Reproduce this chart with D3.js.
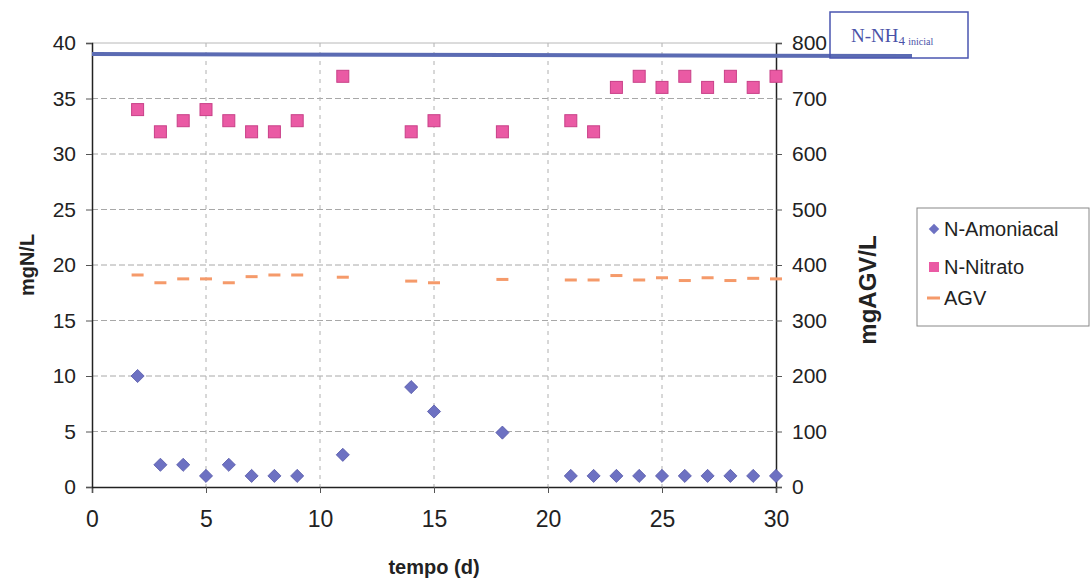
<!DOCTYPE html>
<html>
<head>
<meta charset="utf-8">
<script src="https://cdn.jsdelivr.net/npm/d3@7"></script>
<style>
  body { margin: 0; background: #fff; }
  svg { display: block; font-family: "Liberation Sans", Arial, sans-serif; }
</style>
</head>
<body>
<div id="chart"></div>
<script>
const width = 1091;
const height = 583;

// days (tempo)
const diasAmonio = [2, 3, 4, 5, 6, 7, 8, 9, 11, 14, 15, 18, 21, 22, 23, 24, 25, 26, 27, 28, 29, 30];
const nAmoniacal = [10, 2, 2, 1, 2, 1, 1, 1, 2.9, 9, 6.8, 4.9, 1, 1, 1, 1, 1, 1, 1, 1, 1, 1];
const nNitrato = [34, 32, 33, 34, 33, 32, 32, 33, 37, 32, 33, 32, 33, 32, 36, 37, 36, 37, 36, 37, 36, 37];
const agv = [382, 368, 375, 375, 368, 379, 382, 382, 378, 371, 368, 374, 373, 373, 381, 373, 377, 372, 377, 372, 376, 375];
const nh4Inicial = 39;

const xTicks = [0, 5, 10, 15, 20, 25, 30];
const yLeftTicks = [0, 5, 10, 15, 20, 25, 30, 35, 40];
const yRightTicks = [0, 100, 200, 300, 400, 500, 600, 700, 800];

const margin = { left: 92, right: 315, top: 43, bottom: 96 };

const svg = d3.select('#chart').append('svg')
    .attr('width', width)
    .attr('height', height);

const x = d3.scaleLinear().domain([0, 30]).range([margin.left, width - margin.right]);
const yL = d3.scaleLinear().domain([0, 40]).range([height - margin.bottom, margin.top]);
const yR = d3.scaleLinear().domain([0, 800]).range([height - margin.bottom, margin.top]);

const x0 = x(0), x1 = x(30), yBot = yL(0), yTop = yL(40);

// gridlines
svg.append('g').selectAll('line')
    .data(yLeftTicks.filter(d => d > 0 && d < 40))
    .enter().append('line')
    .attr('x1', x0).attr('x2', x1)
    .attr('y1', d => yL(d)).attr('y2', d => yL(d))
    .attr('stroke', '#a8a8a8')
    .attr('stroke-width', 1)
    .attr('stroke-dasharray', '6,3');

svg.append('g').selectAll('line')
    .data(xTicks.filter(d => d > 0 && d < 30))
    .enter().append('line')
    .attr('x1', d => x(d)).attr('x2', d => x(d))
    .attr('y1', yTop).attr('y2', yBot)
    .attr('stroke', '#b0b0b0')
    .attr('stroke-width', 1)
    .attr('stroke-dasharray', '4,5');

// top border
svg.append('line')
    .attr('x1', x0).attr('x2', x1)
    .attr('y1', yTop).attr('y2', yTop)
    .attr('stroke', '#b8b8b8');

// axes
const xAxis = svg.append('g')
    .attr('transform', `translate(0,${yBot})`)
    .call(d3.axisBottom(x).tickValues(xTicks).tickSize(6).tickPadding(18));
xAxis.selectAll('text')
    .attr('font-family', '"Liberation Sans Narrow", "Arial Narrow", sans-serif')
    .attr('font-size', '23px')
    .attr('fill', '#222');

const yAxisL = svg.append('g')
    .attr('transform', `translate(${x0},0)`)
    .call(d3.axisLeft(yL).tickValues(yLeftTicks).tickSize(6).tickPadding(10));
yAxisL.selectAll('text').attr('font-size', '21px').attr('fill', '#222');

const yAxisR = svg.append('g')
    .attr('transform', `translate(${x1},0)`)
    .call(d3.axisRight(yR).tickValues(yRightTicks).tickSize(6).tickPadding(10));
yAxisR.selectAll('text').attr('font-size', '21px').attr('fill', '#222');

[xAxis, yAxisL, yAxisR].forEach(a => {
    a.select('.domain').attr('stroke', '#222').attr('stroke-width', 1.5);
    a.selectAll('.tick line').attr('stroke', '#555');
});

// axis titles
svg.append('text')
    .attr('transform', `translate(34,${(yTop + yBot) / 2}) rotate(-90)`)
    .attr('text-anchor', 'middle')
    .attr('font-size', '20px')
    .attr('font-weight', 'bold')
    .attr('fill', '#222')
    .text('mgN/L');

svg.append('text')
    .attr('transform', `translate(876,${(yTop + yBot) / 2 + 25}) rotate(-90)`)
    .attr('text-anchor', 'middle')
    .attr('font-size', '24px')
    .attr('font-weight', 'bold')
    .attr('fill', '#222')
    .text('mgAGV/L');

svg.append('text')
    .attr('x', (x0 + x1) / 2)
    .attr('y', 574)
    .attr('text-anchor', 'middle')
    .attr('font-size', '20px')
    .attr('font-weight', 'bold')
    .attr('fill', '#222')
    .text('tempo (d)');

// N-NH4 inicial line and box
svg.append('line')
    .attr('x1', x0).attr('x2', 912)
    .attr('y1', yL(nh4Inicial)).attr('y2', yL(nh4Inicial) + 2)
    .attr('stroke', '#5b6bb3')
    .attr('stroke-width', 4);

svg.append('rect')
    .attr('x', 830).attr('y', 12)
    .attr('width', 138).attr('height', 46)
    .attr('fill', 'none')
    .attr('stroke', '#4a56b0')
    .attr('stroke-width', 1.5);

const lbl = svg.append('text')
    .attr('x', 851).attr('y', 42)
    .attr('font-family', '"Liberation Serif", "Times New Roman", serif')
    .attr('font-size', '19px')
    .attr('fill', '#4a52a8');
lbl.append('tspan').text('N-NH');
lbl.append('tspan').attr('font-size', '13px').attr('dy', 3).text('4 ');
lbl.append('tspan').attr('font-size', '10px').text('inicial');

// AGV dashes
svg.append('g').selectAll('rect')
    .data(diasAmonio.map((d, i) => ({ d, v: agv[i] })))
    .enter().append('rect')
    .attr('x', p => x(p.d) - 6)
    .attr('y', p => yR(p.v) - 1.5)
    .attr('width', 12).attr('height', 3)
    .attr('fill', '#f59a6a');

// N-Nitrato squares
svg.append('g').selectAll('rect')
    .data(diasAmonio.map((d, i) => ({ d, v: nNitrato[i] })))
    .enter().append('rect')
    .attr('x', p => x(p.d) - 6)
    .attr('y', p => yL(p.v) - 6)
    .attr('width', 12).attr('height', 12)
    .attr('fill', '#ea5aa4')
    .attr('stroke', '#c84088')
    .attr('stroke-width', 1);

// N-Amoniacal diamonds
const diamond = d3.symbol().type(d3.symbolDiamond2).size(110);
svg.append('g').selectAll('path')
    .data(diasAmonio.map((d, i) => ({ d, v: nAmoniacal[i] })))
    .enter().append('path')
    .attr('d', diamond)
    .attr('transform', p => `translate(${x(p.d)},${yL(p.v)})`)
    .attr('fill', '#6d71c2')
    .attr('stroke', '#5558a8')
    .attr('stroke-width', 0.8);

// legend
const leg = svg.append('g');
leg.append('rect')
    .attr('x', 917).attr('y', 208)
    .attr('width', 172).attr('height', 118)
    .attr('fill', 'none')
    .attr('stroke', '#888')
    .attr('stroke-width', 1);

const legItems = [
    { label: 'N-Amoniacal', y: 229, kind: 'diamond' },
    { label: 'N-Nitrato', y: 267, kind: 'square' },
    { label: 'AGV', y: 298, kind: 'dash' }
];
legItems.forEach(it => {
    if (it.kind === 'diamond') {
        leg.append('path')
            .attr('d', d3.symbol().type(d3.symbolDiamond2).size(70))
            .attr('transform', `translate(934,${it.y})`)
            .attr('fill', '#6d71c2');
    } else if (it.kind === 'square') {
        leg.append('rect')
            .attr('x', 929).attr('y', it.y - 5)
            .attr('width', 10).attr('height', 10)
            .attr('fill', '#ea5aa4');
    } else {
        leg.append('rect')
            .attr('x', 927).attr('y', it.y - 1.5)
            .attr('width', 13).attr('height', 3)
            .attr('fill', '#f59a6a');
    }
    leg.append('text')
        .attr('x', 944).attr('y', it.y + 7)
        .attr('font-size', '20px')
        .attr('fill', '#222')
        .text(it.label);
});
</script>
</body>
</html>
